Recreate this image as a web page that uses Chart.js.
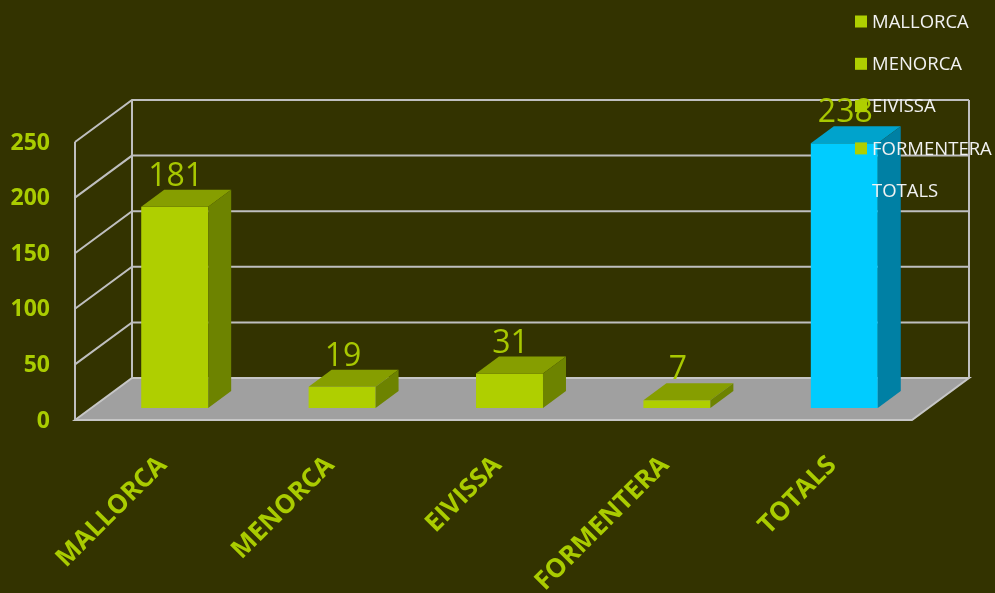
<!DOCTYPE html>
<html>
<head>
<meta charset="utf-8">
<script src="https://cdn.jsdelivr.net/npm/chart.js@4/dist/chart.umd.min.js"></script>
<style>
  html, body { margin: 0; padding: 0; background: #333300; }
  canvas { display: block; }
</style>
</head>
<body>
<canvas id="islands-chart" width="995" height="593"></canvas>
<script>
const categories = ["MALLORCA", "MENORCA", "EIVISSA", "FORMENTERA", "TOTALS"];
const values = [181, 19, 31, 7, 238];
const legendLabels = ["MALLORCA", "MENORCA", "EIVISSA", "FORMENTERA", "TOTALS"];
const legendHasMarker = [true, true, true, true, false];
const yMin = 0;
const yMax = 250;
const yStep = 50;

const Config = {
  colors: {
    background: "#333300",
    face: ["#afcf00", "#afcf00", "#afcf00", "#afcf00", "#00ccff"],
    top: ["#869e00", "#869e00", "#869e00", "#869e00", "#00a3cc"],
    side: ["#6d8300", "#6d8300", "#6d8300", "#6d8300", "#0080a4"],
    label: "#a8c800",
    axisText: "#aacc00",
    legendText: "#f2f2f2",
    legendMarker: "#afcf00",
    grid: "#bfbfbf",
    floor: "#a0a0a0",
    floorEdge: "#c6c6c6",
  },
  // offsets of the box planes relative to the bar front faces
  front: { dx: -16, dy: 12 },
  back: { dx: 41, dy: -30 },
  barDepth: { dx: 23, dy: -17 },
  legend: { markerX: 855, textX: 872, firstY: 21.5, rowGap: 42.3, marker: 12 },
};

const ctx = document.getElementById("islands-chart");

const line = (c, pts) => {
  c.beginPath();
  c.moveTo(pts[0][0], pts[0][1]);
  for (let i = 1; i < pts.length; i++) c.lineTo(pts[i][0], pts[i][1]);
};

const box3d = {
  id: "box3d",
  beforeDraw(chart) {
    const c = chart.ctx;
    c.save();
    c.fillStyle = Config.colors.background;
    c.fillRect(0, 0, chart.width, chart.height);
    c.restore();
  },
  beforeDatasetsDraw(chart) {
    const c = chart.ctx;
    const a = chart.chartArea;
    const y = chart.scales.y;
    const F = Config.front;
    const B = Config.back;
    const y0 = y.getPixelForValue(yMin);
    const yt = y.getPixelForValue(yMax);

    c.save();
    // floor
    line(c, [
      [a.left + F.dx, y0 + F.dy],
      [a.left + B.dx, y0 + B.dy],
      [a.right + B.dx, y0 + B.dy],
      [a.right + F.dx, y0 + F.dy],
    ]);
    c.closePath();
    c.fillStyle = Config.colors.floor;
    c.fill();
    c.strokeStyle = Config.colors.floorEdge;
    c.lineWidth = 2;
    c.stroke();

    // side wall and back wall grid
    c.strokeStyle = Config.colors.grid;
    c.lineWidth = 2;
    y.ticks.forEach((t) => {
      if (t.value === yMin) return;
      const py = y.getPixelForValue(t.value);
      line(c, [
        [a.left + F.dx, py + F.dy],
        [a.left + B.dx, py + B.dy],
        [a.right + B.dx, py + B.dy],
      ]);
      c.stroke();
    });
    [
      [a.left + F.dx, F.dy],
      [a.left + B.dx, B.dy],
      [a.right + B.dx, B.dy],
    ].forEach(([px, off]) => {
      line(c, [[px, y0 + off], [px, yt + off]]);
      c.stroke();
    });
    c.restore();
  },
  afterDatasetsDraw(chart) {
    const c = chart.ctx;
    const d = Config.barDepth;
    const meta = chart.getDatasetMeta(0);
    c.save();
    meta.data.forEach((bar, i) => {
      const { x, y, base, width } = bar.getProps(["x", "y", "base", "width"], true);
      const l = x - width / 2;
      const r = x + width / 2;
      line(c, [[l, y], [r, y], [r + d.dx, y + d.dy], [l + d.dx, y + d.dy]]);
      c.closePath();
      c.fillStyle = Config.colors.top[i];
      c.fill();
      line(c, [[r, y], [r + d.dx, y + d.dy], [r + d.dx, base + d.dy], [r, base]]);
      c.closePath();
      c.fillStyle = Config.colors.side[i];
      c.fill();
    });
    c.font = `32px "Open Sans", sans-serif`;
    c.fillStyle = Config.colors.label;
    c.textAlign = "center";
    c.textBaseline = "alphabetic";
    meta.data.forEach((bar, i) => {
      c.fillText(String(values[i]), bar.x + 1, bar.y + d.dy - 4);
    });

    // legend
    const L = Config.legend;
    c.font = `18.5px "Open Sans", sans-serif`;
    c.textAlign = "left";
    c.textBaseline = "middle";
    legendLabels.forEach((label, i) => {
      const cy = L.firstY + i * L.rowGap;
      if (legendHasMarker[i]) {
        c.fillStyle = Config.colors.legendMarker;
        c.fillRect(L.markerX, cy - L.marker / 2, L.marker, L.marker);
      }
      c.fillStyle = Config.colors.legendText;
      c.fillText(label, L.textX, cy + 1);
    });
    c.restore();
  },
};

new Chart(ctx, {
  type: "bar",
  data: {
    labels: categories,
    datasets: [
      {
        data: values,
        backgroundColor: Config.colors.face,
        borderWidth: 0,
        categoryPercentage: 1,
        barPercentage: 0.4,
      },
    ],
  },
  options: {
    responsive: false,
    devicePixelRatio: 1,
    animation: false,
    layout: { padding: { top: 130, right: 67, left: 0, bottom: 0 } },
    scales: {
      x: {
        grid: { display: false },
        border: { display: false },
        afterFit: (scale) => {
          scale.height = 185;
        },
        ticks: {
          autoSkip: false,
          minRotation: 45,
          maxRotation: 45,
          padding: 34,
          labelOffset: -12,
          color: Config.colors.axisText,
          font: { family: "'Open Sans', sans-serif", size: 26, weight: "bold" },
        },
      },
      y: {
        min: yMin,
        max: yMax,
        grid: { display: false, drawTicks: false },
        border: { display: false },
        afterFit: (scale) => {
          scale.width = 91;
        },
        ticks: {
          stepSize: yStep,
          padding: 41,
          labelOffset: 13,
          color: Config.colors.axisText,
          font: { family: "'Open Sans', sans-serif", size: 23, weight: "bold" },
        },
      },
    },
    plugins: {
      legend: { display: false },
      tooltip: { enabled: false },
    },
  },
  plugins: [box3d],
});
</script>
</body>
</html>
